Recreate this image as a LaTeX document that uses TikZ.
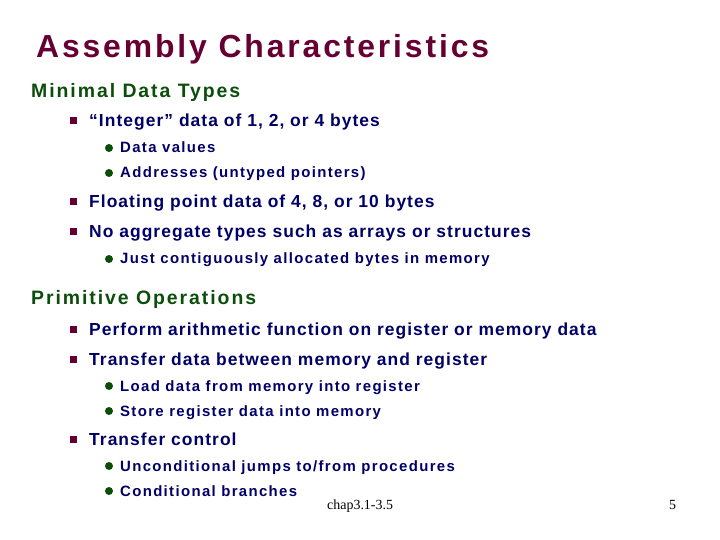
\documentclass[tikz,border=0pt]{standalone}
\usepackage{fontspec}
\setmainfont{Liberation Sans}
\newfontfamily\timesf{Liberation Serif}
\definecolor{maroon}{HTML}{660033}
\definecolor{dgreen}{HTML}{0B4D0B}
\definecolor{navy}{HTML}{000066}
\begin{document}
\begin{tikzpicture}[x=1bp,y=-1bp,
  every node/.style={inner sep=0pt,anchor=base west},
  title/.style={text=maroon,font=\bfseries\fontsize{32}{36}\selectfont\addfontfeatures{LetterSpace=9}},
  head/.style={text=dgreen,font=\bfseries\fontsize{19.5}{23}\selectfont\addfontfeatures{LetterSpace=10}},
  lone/.style={text=navy,font=\bfseries\fontsize{17.5}{20}\selectfont\addfontfeatures{LetterSpace=6}},
  ltwo/.style={text=navy,font=\bfseries\fontsize{15}{18}\selectfont\addfontfeatures{LetterSpace=9}},
  sq/.style={fill=maroon,draw=none,minimum size=7bp,anchor=center},
  dot/.style={circle,fill=dgreen,draw=none,minimum size=8bp,anchor=center},
  foot/.style={font=\timesf\fontsize{14}{16}\selectfont,text=black}]
\useasboundingbox (0,0) rectangle (720,540);
\node[title] (t) at (36,58) {Assembly Characteristics};
\node[head] (h1) at (31,98) {Minimal Data Types};
\node[sq] (b1) at (73.5,121) {}; \node[lone] (a1) at (89,127) {“Integer” data of 1, 2, or 4 bytes};
\node[dot] (d1) at (109,148) {}; \node[ltwo] (s1) at (120,153) {Data values};
\node[dot] (d2) at (109,173) {}; \node[ltwo] (s2) at (120,178) {Addresses (untyped pointers)};
\node[sq] (b2) at (73.5,202) {}; \node[lone] (a2) at (89,208) {Floating point data of 4, 8, or 10 bytes};
\node[sq] (b3) at (73.5,232) {}; \node[lone] (a3) at (89,238) {No aggregate types such as arrays or structures};
\node[dot] (d3) at (109,259) {}; \node[ltwo] (s3) at (120,264) {Just contiguously allocated bytes in memory};
\node[head] (h2) at (31,304) {Primitive Operations};
\node[sq] (b4) at (73.5,329) {}; \node[lone] (a4) at (89,335) {Perform arithmetic function on register or memory data};
\node[sq] (b5) at (73.5,359) {}; \node[lone] (a5) at (89,365) {Transfer data between memory and register};
\node[dot] (d4) at (109,386) {}; \node[ltwo] (s4) at (120,391) {Load data from memory into register};
\node[dot] (d5) at (109,411) {}; \node[ltwo] (s5) at (120,416) {Store register data into memory};
\node[sq] (b6) at (73.5,439) {}; \node[lone] (a6) at (89,445) {Transfer control};
\node[dot] (d6) at (109,466) {}; \node[ltwo] (s6) at (120,471) {Unconditional jumps to/from procedures};
\node[dot] (d7) at (109,491) {}; \node[ltwo] (s7) at (120,496) {Conditional branches};
\node[foot] (f1) at (327,509) {chap3.1-3.5};
\node[foot] (f2) at (669,509) {5};
\end{tikzpicture}
\end{document}
